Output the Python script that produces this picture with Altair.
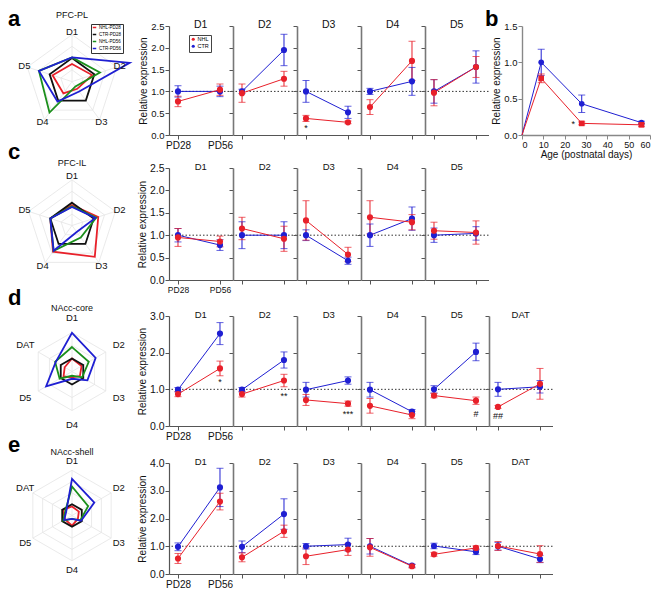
import altair as alt
import pandas as pd

FONT = "Liberation Sans"
RED = "#e8202a"
BLUE = "#1f1fd2"
GREEN = "#1b8f1b"
BLACK = "#111111"
AX = "#555555"

GROUPS = ["NHL", "CTR"]
SERIES = ["NHL-PD28", "CTR-PD28", "NHL-PD56", "CTR-PD56"]

# ---------------- a : PFC-PL ----------------
pl_genes = ["D1", "D2", "D3", "D4", "D5"]
pl_nhl28 = [0.77, 0.96, 0.38, 0.64, 0.97]
pl_nhl28_se = [0.12, 0.21, 0.07, 0.17, 0.30]
pl_nhl56 = [1.04, 1.29, 0.29, 1.70, 1.56]
pl_nhl56_se = [0.13, 0.17, 0.03, 0.45, 0.24]
pl_ctr28 = [1.00, 1.00, 1.00, 1.00, 1.00]
pl_ctr28_se = [0.13, 0.05, 0.25, 0.07, 0.27]
pl_ctr56 = [1.00, 1.95, 0.52, 1.23, 1.56]
pl_ctr56_se = [0.12, 0.36, 0.14, 0.32, 0.37]
pl_sig_gene = ["D3"]
pl_sig_t = [0]
pl_sig_y = [0.15]
pl_sig_txt = ["*"]
pl_radar = [
    [0.75, 0.90, 0.38, 0.62, 0.87],
    [1.00, 1.00, 1.00, 1.00, 1.00],
    [1.03, 1.25, 0.25, 1.63, 1.48],
    [1.03, 2.58, 0.52, 1.05, 1.48],
]

# ---------------- b : time course ----------------
b_age = [0, 9, 28, 56]
b_ctr = [0.0, 1.00, 0.43, 0.17]
b_ctr_se = [0.0, 0.18, 0.12, 0.02]
b_nhl = [0.0, 0.78, 0.16, 0.14]
b_nhl_se = [0.0, 0.06, 0.02, 0.02]
b_sig_age = [24]
b_sig_y = [0.15]
b_sig_txt = ["*"]

# ---------------- c : PFC-IL ----------------
il_genes = ["D1", "D2", "D3", "D4", "D5"]
il_nhl28 = [0.95, 1.15, 1.33, 1.40, 1.10]
il_nhl28_se = [0.20, 0.25, 0.44, 0.37, 0.19]
il_nhl56 = [0.86, 0.92, 0.57, 1.29, 1.06]
il_nhl56_se = [0.12, 0.28, 0.16, 0.17, 0.26]
il_ctr28 = [1.00, 1.00, 1.00, 1.00, 1.00]
il_ctr28_se = [0.15, 0.30, 0.12, 0.25, 0.16]
il_ctr56 = [0.78, 1.00, 0.43, 1.37, 1.04]
il_ctr56_se = [0.12, 0.30, 0.08, 0.26, 0.15]
il_sig_gene, il_sig_t, il_sig_y, il_sig_txt = [], [], [], []
il_radar = [
    [0.90, 1.21, 1.70, 1.42, 1.00],
    [1.00, 1.00, 1.00, 1.00, 1.00],
    [0.84, 1.12, 0.65, 1.37, 1.00],
    [0.81, 1.08, 0.35, 1.37, 1.00],
]

# ---------------- d : NAcc-core ----------------
co_genes = ["D1", "D2", "D3", "D4", "D5", "DAT"]
co_nhl28 = [0.87, 0.87, 0.71, 0.55, 0.83, 0.52]
co_nhl28_se = [0.07, 0.08, 0.15, 0.20, 0.06, 0.04]
co_nhl56 = [1.57, 1.24, 0.61, 0.30, 0.69, 1.15]
co_nhl56_se = [0.20, 0.17, 0.07, 0.10, 0.10, 0.42]
co_ctr28 = [0.99, 0.99, 0.99, 0.99, 1.00, 1.00]
co_ctr28_se = [0.06, 0.06, 0.20, 0.20, 0.10, 0.19]
co_ctr56 = [2.52, 1.80, 1.24, 0.39, 2.02, 1.07]
co_ctr56_se = [0.30, 0.22, 0.10, 0.06, 0.24, 0.17]
co_sig_gene = ["D1", "D2", "D3", "D5", "DAT"]
co_sig_t = [1, 1, 1, 1, 0]
co_sig_y = [1.19, 0.82, 0.32, 0.34, 0.27]
co_sig_txt = ["*", "**", "***", "#", "##"]
co_radar = [
    [1.00, 0.85, 0.70, 0.45, 0.75, 0.65],
    [1.00, 1.00, 1.00, 1.00, 1.00, 1.00],
    [1.88, 1.49, 0.90, 0.33, 1.10, 1.50],
    [2.98, 2.10, 1.37, 0.56, 2.30, 1.45],
]

# ---------------- e : NAcc-shell ----------------
sh_genes = ["D1", "D2", "D3", "D4", "D5", "DAT"]
sh_nhl28 = [0.56, 0.60, 0.64, 0.96, 0.71, 1.01]
sh_nhl28_se = [0.18, 0.16, 0.30, 0.32, 0.07, 0.16]
sh_nhl56 = [2.61, 1.54, 0.88, 0.28, 0.94, 0.72]
sh_nhl56_se = [0.30, 0.22, 0.21, 0.06, 0.07, 0.30]
sh_ctr28 = [0.98, 0.98, 1.00, 1.00, 1.01, 1.00]
sh_ctr28_se = [0.14, 0.21, 0.10, 0.28, 0.10, 0.14]
sh_ctr56 = [3.12, 2.16, 1.06, 0.30, 0.80, 0.54]
sh_ctr56_se = [0.69, 0.55, 0.23, 0.05, 0.10, 0.13]
sh_sig_gene, sh_sig_t, sh_sig_y, sh_sig_txt = [], [], [], []
sh_radar = [
    [0.80, 0.70, 0.60, 0.90, 0.70, 0.95],
    [1.00, 1.00, 1.00, 1.00, 1.00, 1.00],
    [2.57, 1.65, 0.85, 0.30, 0.90, 0.70],
    [3.24, 2.28, 0.93, 0.30, 0.80, 0.60],
]

PANEL_W = 63.5


def region_df(genes, n28, n28e, n56, n56e, c28, c28e, c56, c56e):
    rows = []
    for i, g in enumerate(genes):
        for grp, m0, e0, m1, e1 in [
            ("CTR", c28[i], c28e[i], c56[i], c56e[i]),
            ("NHL", n28[i], n28e[i], n56[i], n56e[i]),
        ]:
            rows.append(dict(gene=g, group=grp, t=0, m=m0, e=e0))
            rows.append(dict(gene=g, group=grp, t=1, m=m1, e=e1))
    return pd.DataFrame(rows)


def sig_df(genes, ts, ys, txts):
    return pd.DataFrame({"gene": genes, "t": ts, "y": ys, "txt": txts})


def panel(df, sig, gene, ymax, yvals, h, first, tick_fs, gene_fs, xlab_fs, legend=None):
    d = df[df["gene"] == gene]
    xsc = alt.Scale(domain=[-0.214, 1.298], nice=False, zero=False)
    ysc = alt.Scale(domain=[0, ymax], nice=False)
    xax = alt.Axis(values=[0, 1], labelExpr="datum.value == 0 ? 'PD28' : 'PD56'",
                   labels=first, title=None, grid=False, tickSize=4, tickColor=AX,
                   domainColor=AX, domainWidth=1.2, labelFontSize=xlab_fs,
                   labelPadding=1, labelColor="#111")
    ytitle = "Relative expression" if first else None
    yax = alt.Axis(values=yvals, format=".1f", labels=first, title=ytitle, grid=False,
                   tickSize=4, tickColor=AX, domainColor=AX if first else "#777",
                   domainWidth=1.2 if first else 1.6, labelFontSize=tick_fs,
                   labelPadding=1, titleFontSize=10, titleFontWeight="normal",
                   titlePadding=2, labelColor="#111", titleColor="#111")
    cscale = alt.Scale(domain=GROUPS, range=[RED, BLUE])
    X = alt.X("t:Q", scale=xsc, axis=xax, title=None)
    Yf = lambda f: alt.Y(f, scale=ysc, axis=yax, title=ytitle)
    cn = alt.Color("group:N", scale=cscale, legend=None)
    base = alt.Chart(d).transform_calculate(lo="datum.m - datum.e", hi="datum.m + datum.e")
    ref = alt.Chart(pd.DataFrame({"one": [1.0]})).mark_rule(
        color="#333", strokeDash=[1.5, 2], strokeWidth=1
    ).encode(y=Yf("one:Q"))
    line = base.mark_line(strokeWidth=1).encode(
        x=X, y=Yf("m:Q"),
        color=alt.Color("group:N", scale=cscale, legend=legend),
    )
    err = base.mark_rule(strokeWidth=1).encode(x=X, y=Yf("lo:Q"), y2="hi:Q", color=cn)
    cap_lo = base.mark_tick(orient="horizontal", size=7, thickness=1).encode(
        x=X, y=Yf("lo:Q"), color=cn)
    cap_hi = base.mark_tick(orient="horizontal", size=7, thickness=1).encode(
        x=X, y=Yf("hi:Q"), color=cn)
    pts = base.mark_circle(size=38, opacity=1).encode(x=X, y=Yf("m:Q"), color=cn)
    head = alt.Chart(pd.DataFrame({"g": [gene]})).mark_text(
        fontSize=gene_fs, color="#111", baseline="middle", align="center"
    ).encode(x=alt.value(PANEL_W / 2), y=alt.value(-1), text="g:N")
    layers = [ref, line, err, cap_lo, cap_hi, pts, head]
    s = sig[sig["gene"] == gene]
    if len(s):
        layers.append(alt.Chart(s).mark_text(fontSize=9, color="#111").encode(
            x=X, y=Yf("y:Q"), text="txt:N"))
    return alt.layer(*layers).properties(width=PANEL_W, height=h)


def make_row(df, sig, genes, ymax, yvals, h, tick_fs, gene_fs, xlab_fs, legend=None, extra=None):
    charts = [
        panel(df, sig, g, ymax, yvals, h, j == 0, tick_fs, gene_fs, xlab_fs,
              legend if j == 0 else None)
        for j, g in enumerate(genes)
    ]
    if extra:
        charts += extra
    return alt.hconcat(*charts, spacing=0, bounds="flush").resolve_scale(
        color="independent", shape="independent")


def radar(axes, vals_list, k, rings, label_r, cy, height, title, title_y, letter, letter_y,
          legend=None):
    n = len(axes)
    W, cx = 126, 64
    sx = alt.Scale(domain=[-cx / k, (W - cx) / k], nice=False, zero=False)
    sy = alt.Scale(domain=[-(height - cy) / k, cy / k], nice=False, zero=False)
    ang = f"datum.idx * 2 * PI / {n}"
    recs = [{"series": s, "idx": i, "v": v}
            for s, vals in zip(SERIES, vals_list) for i, v in enumerate(vals)]
    ring_df = pd.DataFrame([{"lvl": L, "idx": i} for L in rings for i in range(n)])
    spoke_df = pd.DataFrame([{"idx": i, "R": rings[-1]} for i in range(n)])
    lab_df = pd.DataFrame([{"idx": i, "axis": a, "R": label_r} for i, a in enumerate(axes)])
    X = lambda f: alt.X(f, scale=sx, axis=None)
    Y = lambda f: alt.Y(f, scale=sy, axis=None)
    grid = alt.Chart(ring_df).transform_calculate(
        x=f"datum.lvl * sin({ang})", y=f"datum.lvl * cos({ang})"
    ).mark_line(interpolate="linear-closed", color="#e4e4e4", strokeWidth=0.8).encode(
        x=X("x:Q"), y=Y("y:Q"), detail="lvl:N", order="idx:Q")
    spokes = alt.Chart(spoke_df).transform_calculate(
        x0="0", y0="0", x=f"datum.R * sin({ang})", y=f"datum.R * cos({ang})"
    ).mark_rule(color="#e4e4e4", strokeWidth=0.8).encode(
        x=X("x0:Q"), y=Y("y0:Q"), x2="x:Q", y2="y:Q")
    lines = alt.Chart(pd.DataFrame(recs)).transform_calculate(
        x=f"datum.v * sin({ang})", y=f"datum.v * cos({ang})"
    ).mark_line(interpolate="linear-closed", strokeWidth=1.8).encode(
        x=X("x:Q"), y=Y("y:Q"), order="idx:Q",
        color=alt.Color("series:N", scale=alt.Scale(domain=SERIES, range=[RED, BLACK, GREEN, BLUE]),
                        legend=legend))
    labels = alt.Chart(lab_df).transform_calculate(
        x=f"datum.R * sin({ang})", y=f"datum.R * cos({ang})"
    ).mark_text(fontSize=9.5, color="#111").encode(x=X("x:Q"), y=Y("y:Q"), text="axis:N")
    ttl = alt.Chart(pd.DataFrame({"t": [title]})).mark_text(fontSize=9, color="#111").encode(
        x=alt.value(cx), y=alt.value(title_y), text="t:N")
    let = alt.Chart(pd.DataFrame({"t": [letter]})).mark_text(
        fontSize=22, fontWeight="bold", align="left", baseline="alphabetic", color="#000"
    ).encode(x=alt.value(0), y=alt.value(letter_y), text="t:N")
    return alt.layer(grid, spokes, lines, labels, ttl, let).properties(width=W, height=height)


# ---------------- build ----------------
pl_df = region_df(pl_genes, pl_nhl28, pl_nhl28_se, pl_nhl56, pl_nhl56_se,
                  pl_ctr28, pl_ctr28_se, pl_ctr56, pl_ctr56_se)
il_df = region_df(il_genes, il_nhl28, il_nhl28_se, il_nhl56, il_nhl56_se,
                  il_ctr28, il_ctr28_se, il_ctr56, il_ctr56_se)
co_df = region_df(co_genes, co_nhl28, co_nhl28_se, co_nhl56, co_nhl56_se,
                  co_ctr28, co_ctr28_se, co_ctr56, co_ctr56_se)
sh_df = region_df(sh_genes, sh_nhl28, sh_nhl28_se, sh_nhl56, sh_nhl56_se,
                  sh_ctr28, sh_ctr28_se, sh_ctr56, sh_ctr56_se)

# b chart
b_rows = []
for grp, vals, ses in [("CTR", b_ctr, b_ctr_se), ("NHL", b_nhl, b_nhl_se)]:
    for a, v, s in zip(b_age, vals, ses):
        b_rows.append(dict(group=grp, age=a, m=v, e=s))
b_df = pd.DataFrame(b_rows)
bx = alt.Scale(domain=[0, 60], nice=False)
by = alt.Scale(domain=[0, 1.5], nice=False)
bcol = alt.Scale(domain=GROUPS, range=[RED, BLUE])
bxax = alt.Axis(values=[0, 10, 20, 30, 40, 50, 60], title="Age (postnatal days)", grid=False,
                tickSize=4, tickColor="#888", domainColor="#888", domainWidth=1.4,
                labelFontSize=9, labelPadding=1, titleFontSize=10, titleFontWeight="normal",
                titlePadding=0, labelColor="#111", titleColor="#111")
byax = alt.Axis(values=[0, 0.5, 1.0, 1.5], format=".1f", title="Relative expression", grid=False,
                tickSize=4, tickColor="#888", domainColor="#888", domainWidth=1.4,
                labelFontSize=9.5, labelPadding=1, titleFontSize=10, titleFontWeight="normal",
                titlePadding=2, labelColor="#111", titleColor="#111")
BX = alt.X("age:Q", scale=bx, axis=bxax, title="Age (postnatal days)")
BY = lambda f: alt.Y(f, scale=by, axis=byax, title="Relative expression")
bbase = alt.Chart(b_df).transform_calculate(lo="datum.m - datum.e", hi="datum.m + datum.e")
bc = alt.Color("group:N", scale=bcol, legend=None)
b_line = bbase.mark_line(strokeWidth=1).encode(x=BX, y=BY("m:Q"), color=bc)
bf = bbase.transform_filter("datum.age > 0")
b_err = bf.mark_rule(strokeWidth=1).encode(x=BX, y=BY("lo:Q"), y2="hi:Q", color=bc)
b_cap_lo = bf.mark_tick(orient="horizontal", size=7, thickness=1).encode(
    x=BX, y=BY("lo:Q"), color=bc)
b_cap_hi = bf.mark_tick(orient="horizontal", size=7, thickness=1).encode(
    x=BX, y=BY("hi:Q"), color=bc)
b_pts = bf.mark_point(filled=True, size=32, opacity=1).encode(
    x=BX, y=BY("m:Q"), color=bc,
    shape=alt.Shape("group:N", scale=alt.Scale(domain=GROUPS, range=["square", "circle"]),
                    legend=None))
b_sig = alt.Chart(pd.DataFrame({"age": b_sig_age, "y": b_sig_y, "txt": b_sig_txt})).mark_text(
    fontSize=9, color="#111").encode(x=BX, y=BY("y:Q"), text="txt:N")
b_letter = alt.Chart(pd.DataFrame({"t": ["b"]})).mark_text(
    fontSize=22, fontWeight="bold", align="left", baseline="alphabetic", color="#000"
).encode(x=alt.value(-37), y=alt.value(0), text="t:N")
b_chart = alt.layer(b_line, b_err, b_cap_lo, b_cap_hi, b_pts, b_sig, b_letter).properties(
    width=128, height=109)

spacer = alt.Chart(pd.DataFrame({"v": [0]})).mark_point(opacity=0).encode(
    x=alt.X("v:Q", axis=None), y=alt.Y("v:Q", axis=None)).properties(width=32.5, height=109)

row_legend = alt.Legend(title=None, orient="none", legendX=20, legendY=9, strokeColor="#444",
                        fillColor="white", padding=1.5, labelFontSize=5.5, symbolSize=10,
                        symbolStrokeWidth=0, symbolType="circle", rowPadding=0, labelOffset=1.5)

row_a = make_row(pl_df, sig_df(pl_sig_gene, pl_sig_t, pl_sig_y, pl_sig_txt), pl_genes, 2.5,
                 [0, 0.5, 1.0, 1.5, 2.0, 2.5], 109, 9.5, 10.5, 10, legend=row_legend,
                 extra=[spacer, b_chart])
row_c = make_row(il_df, sig_df(il_sig_gene, il_sig_t, il_sig_y, il_sig_txt), il_genes, 2.5,
                 [0, 0.5, 1.0, 1.5, 2.0, 2.5], 112, 10.5, 9.5, 8.5)
row_d = make_row(co_df, sig_df(co_sig_gene, co_sig_t, co_sig_y, co_sig_txt), co_genes, 3.0,
                 [0, 1.0, 2.0, 3.0], 110, 10.5, 9.5, 10)
row_e = make_row(sh_df, sig_df(sh_sig_gene, sh_sig_t, sh_sig_y, sh_sig_txt), sh_genes, 4.0,
                 [0, 1.0, 2.0, 3.0, 4.0], 111, 10.5, 9.5, 10)

inner = alt.vconcat(row_c, row_d, row_e, spacing=16).resolve_scale(
    color="independent", shape="independent")
col2 = alt.vconcat(row_a, inner, spacing=3).resolve_scale(
    color="independent", shape="independent")

radar_legend = alt.Legend(title=None, orient="none", legendX=83, legendY=-2, strokeColor="#333",
                          fillColor="white", padding=1, labelFontSize=4.5, symbolType="stroke",
                          symbolSize=12, symbolStrokeWidth=1.5, rowPadding=0, labelOffset=2)

rad_a = radar(pl_genes, pl_radar, 23.5, [0.5, 1.0, 1.5, 2.0], 2.13, 55.6, 113.6, "PFC-PL", -11,
              "a", 0, legend=radar_legend)
rad_c = radar(il_genes, il_radar, 22.8, [0.5, 1.0, 1.5, 2.0], 2.19, 84.5, 145, "PFC-IL", 22,
              "c", 17.5)
rad_d = radar(co_genes, co_radar, 13.0, [1.0, 2.0, 3.0], 4.15, 84.5, 146, "NAcc-core", 21,
              "d", 17.5)
rad_e = radar(sh_genes, sh_radar, 11.3, [1.0, 2.0, 3.0, 4.0], 4.78, 81.5, 146, "NAcc-shell", 18,
              "e", 17.5)
col1 = alt.vconcat(rad_a, rad_c, rad_d, rad_e, spacing=0).resolve_scale(color="independent")

chart = alt.hconcat(col1, col2, spacing=3).resolve_scale(
    color="independent", shape="independent"
).properties(padding=0).configure(font=FONT).configure_view(stroke=None)

chart.save("out.html", embed_options={"renderer": "svg", "actions": False})
